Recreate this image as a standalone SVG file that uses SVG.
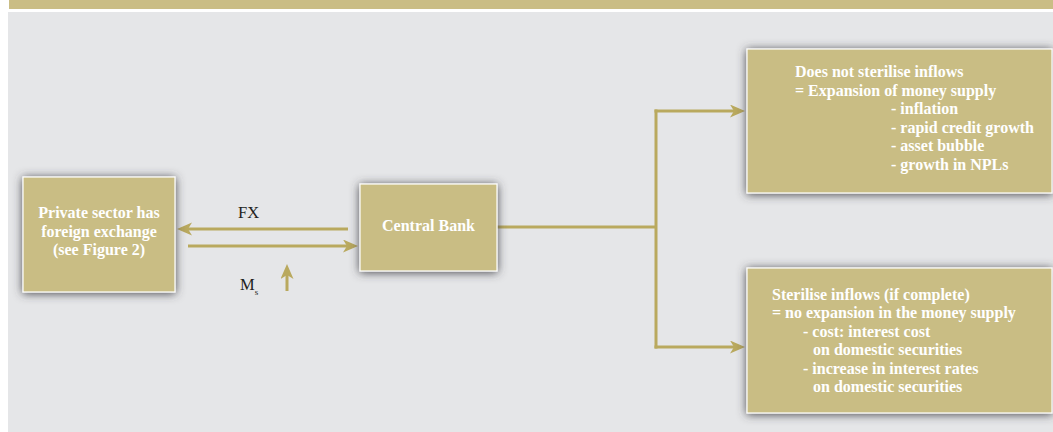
<svg xmlns="http://www.w3.org/2000/svg" width="1053" height="432" viewBox="0 0 1053 432">
<style>
.box{fill:#c9bd84;stroke:#ffffff;stroke-width:1.2;filter:url(#sh)}
.bt{font-family:"Liberation Serif","Times New Roman",serif;font-weight:bold;font-size:16px;fill:#ffffff}
.lbl{font-family:"Liberation Serif","Times New Roman",serif;font-size:16.5px;fill:#231f20}
.conn{stroke:#b9a95e;stroke-width:3;fill:none}
</style>
<defs>
<filter id="sh" x="-20%" y="-20%" width="140%" height="140%">
<feGaussianBlur in="SourceAlpha" stdDeviation="5"/>
<feOffset dx="0" dy="1" result="b"/>
<feFlood flood-color="#3e3e44" flood-opacity="0.95"/>
<feComposite in2="b" operator="in"/>
<feMerge><feMergeNode/><feMergeNode in="SourceGraphic"/></feMerge>
</filter>
<marker id="ah" markerUnits="userSpaceOnUse" markerWidth="16" markerHeight="14" refX="4" refY="6.5" orient="auto" viewBox="0 0 16 14">
<path d="M0,0 L15,6.5 L0,13 L4,6.5 Z" fill="#b9a95e"/>
</marker>
</defs>
<rect x="0" y="0" width="1053" height="432" fill="#ffffff"/>
<rect x="9" y="0" width="1044" height="9" fill="#cabd85"/>
<rect x="8" y="12" width="1045" height="420" fill="#e5e6e8"/>

<g id="connectors">
<line class="conn" x1="348" y1="229" x2="188" y2="229" marker-end="url(#ah)"/>
<line class="conn" x1="188" y1="246" x2="347" y2="246" marker-end="url(#ah)"/>
<line class="conn" x1="287" y1="291" x2="287" y2="275" marker-end="url(#ah)"/>
<line class="conn" x1="497" y1="227" x2="656" y2="227"/>
<line class="conn" x1="656" y1="109.5" x2="656" y2="348.5"/>
<line class="conn" x1="654.5" y1="111" x2="734" y2="111" marker-end="url(#ah)"/>
<line class="conn" x1="654.5" y1="347" x2="734" y2="347" marker-end="url(#ah)"/>
<text class="lbl" x="248.5" y="218" text-anchor="middle">FX</text>
<text class="lbl" x="240" y="290">M<tspan font-size="9" dy="5">s</tspan></text>
</g>

<g id="node-private">
<rect class="box" x="23" y="177" width="152" height="115"/>
<text class="bt" text-anchor="middle"><tspan x="99" y="218">Private sector has</tspan><tspan x="99" y="236.5">foreign exchange</tspan><tspan x="99" y="255">(see Figure 2)</tspan></text>
</g>

<g id="node-central">
<rect class="box" x="360" y="184" width="137" height="87"/>
<text class="bt" x="428.5" y="231" text-anchor="middle">Central Bank</text>
</g>

<g id="node-nosterilise">
<rect class="box" x="747" y="49" width="305" height="144"/>
<text class="bt"><tspan x="795" y="77">Does not sterilise inflows</tspan><tspan x="795" y="95.5">= Expansion of money supply</tspan><tspan x="891" y="114">- inflation</tspan><tspan x="891" y="132.5">- rapid credit growth</tspan><tspan x="891" y="151">- asset bubble</tspan><tspan x="891" y="169.5">- growth in NPLs</tspan></text>
</g>

<g id="node-sterilise">
<rect class="box" x="747" y="268" width="305" height="145"/>
<text class="bt"><tspan x="772" y="300">Sterilise inflows (if complete)</tspan><tspan x="772" y="318.4">= no expansion in the money supply</tspan><tspan x="803" y="336.8">- cost: interest cost</tspan><tspan x="813" y="355.2">on domestic securities</tspan><tspan x="803" y="373.6">- increase in interest rates</tspan><tspan x="813" y="392">on domestic securities</tspan></text>
</g>
</svg>
